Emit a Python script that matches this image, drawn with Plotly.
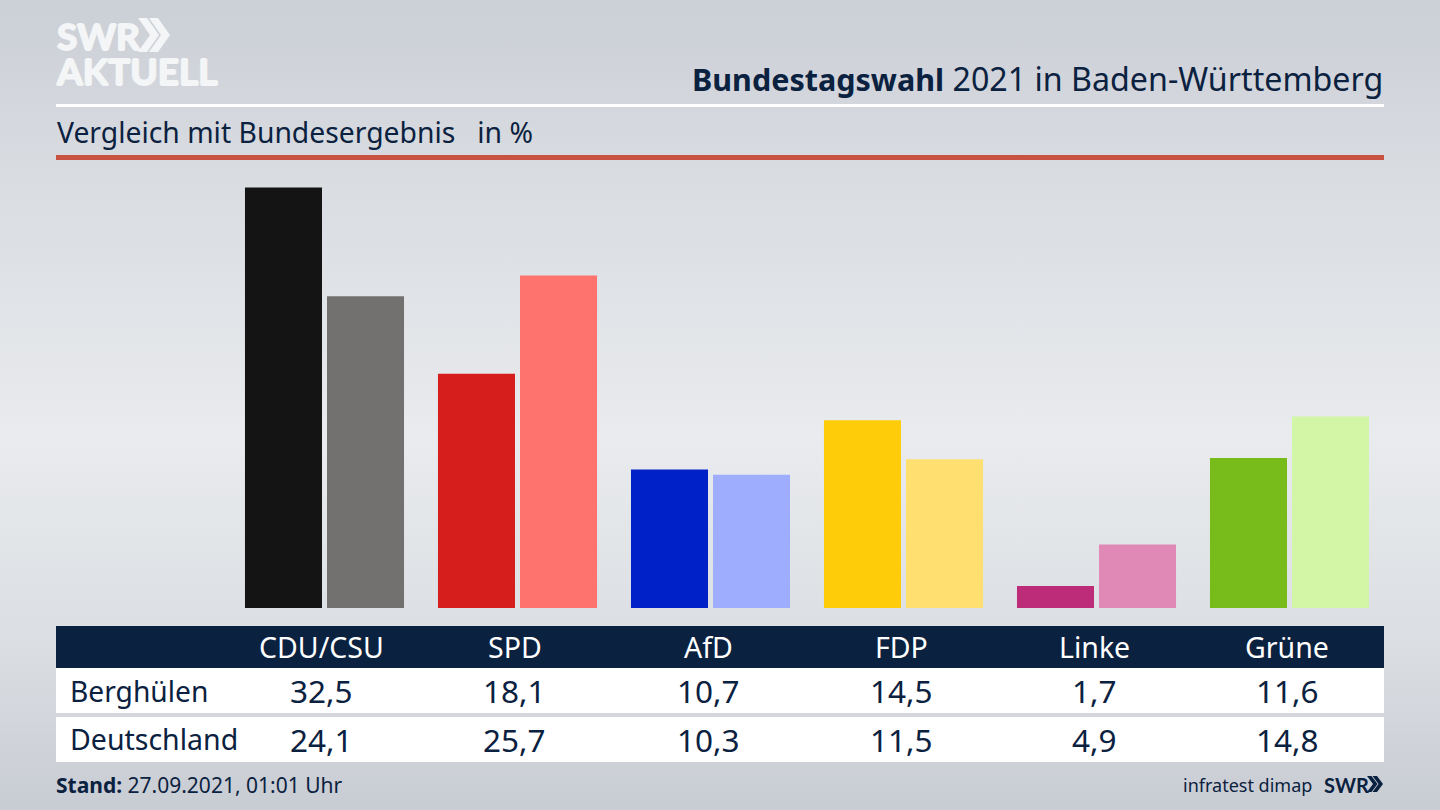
import base64
import plotly.graph_objects as go

W, H = 1440, 810

parties = ["CDU/CSU", "SPD", "AfD", "FDP", "Linke", "Grüne"]
region_name = "Berghülen"
nation_name = "Deutschland"
region_values = [32.5, 18.1, 10.7, 14.5, 1.7, 11.6]
nation_values = [24.1, 25.7, 10.3, 11.5, 4.9, 14.8]
region_colors = ["#141414", "#d61f1c", "#0021c8", "#ffcc0a", "#bc2c78", "#78bc1c"]
nation_colors = ["#73716f", "#ff736e", "#9fadff", "#ffdf70", "#e088b6", "#d2f5a6"]

NAVY = "#0b2140"
LOGO = "#f4f5f6"
FONT = "Noto Sans"
LOGO_FONT = "Lato"


def fx(x):
    return x / W


def fy(y):
    return 1 - y / H


def num(v):
    return f"{v:.1f}".replace(".", ",")


def label(x, y, text, size, color=NAVY, anchor="center", family=FONT, shadow=None, align="center"):
    font = dict(family=family, size=size, color=color)
    if shadow:
        font["shadow"] = shadow
    return dict(
        x=fx(x), y=fy(y), xref="paper", yref="paper", text=text, showarrow=False, align=align,
        xanchor=anchor, yanchor="middle", borderpad=0, borderwidth=0, font=font,
    )


def rect(x0, y0, x1, y1, color):
    return dict(
        type="rect", xref="paper", yref="paper", x0=fx(x0), x1=fx(x1), y0=fy(y0), y1=fy(y1),
        fillcolor=color, line=dict(width=0), layer="below",
    )


def poly(points, color):
    d = "M " + " L ".join(f"{fx(x):.5f},{fy(y):.5f}" for x, y in points) + " Z"
    return dict(type="path", xref="paper", yref="paper", path=d, fillcolor=color,
                line=dict(width=0), layer="above")


def chevrons(x, top, bottom, width, tip, step, color):
    mid = (top + bottom) / 2
    out = []
    for i in range(2):
        x0 = x + i * step
        out.append(poly([(x0, top), (x0 + width, top), (x0 + width + tip, mid),
                         (x0 + width, bottom), (x0, bottom), (x0 + tip, mid)], color))
    return out


svg = f'''<svg xmlns="http://www.w3.org/2000/svg" width="{W}" height="{H}">
<defs><linearGradient id="g" x1="0" y1="0" x2="0" y2="1">
<stop offset="0" stop-color="#cbcfd6"/>
<stop offset="0.2" stop-color="#d8dbe0"/>
<stop offset="0.54" stop-color="#e9ebee"/>
<stop offset="0.78" stop-color="#dcdfe3"/>
<stop offset="1" stop-color="#c8ccd3"/>
</linearGradient></defs>
<rect width="{W}" height="{H}" fill="url(#g)"/></svg>'''
bg_uri = "data:image/svg+xml;base64," + base64.b64encode(svg.encode()).decode()

fig = go.Figure()
fig.add_bar(x=parties, y=region_values, name=region_name, marker=dict(color=region_colors, line=dict(width=0)))
fig.add_bar(x=parties, y=nation_values, name=nation_name, marker=dict(color=nation_colors, line=dict(width=0)))

shapes = [
    rect(56, 104, 1384, 107, "#ffffff"),
    rect(56, 155, 1384, 160, "#c8523f"),
    rect(56, 626, 1384, 668, NAVY),
    rect(56, 668, 1384, 713, "#ffffff"),
    rect(56, 717, 1384, 762, "#ffffff"),
]
shapes += chevrons(138, 18, 52, 9, 12, 11, LOGO)
shapes += chevrons(1367, 776, 792, 4.5, 6, 5.5, NAVY)

heavy = "1px 0 0 {0},-1px 0 0 {0},0 1px 0 {0},0 -1px 0 {0}"
col_x = [321, 514.5, 708, 901, 1094, 1287]
annotations = [
    label(56, 53.5,
          '<span style="font-size:37px"><b>SWR</b></span><br><span style="font-size:37px"><b>AKTUELL</b></span>',
          27, LOGO, "left", LOGO_FONT, heavy.format(LOGO), "left"),
    label(1383, 78,
          '<span style="font-size:30.5px"><b>Bundestagswahl</b></span> 2021 in Baden-Württemberg',
          32.2, NAVY, "right"),
    label(57, 132, "Vergleich mit Bundesergebnis   in %", 28.3, NAVY, "left"),
    label(70, 691, region_name, 28.2, NAVY, "left"),
    label(70, 739, nation_name, 28.5, NAVY, "left"),
    label(56, 785, "<b>Stand:</b> 27.09.2021, 01:01 Uhr", 21, NAVY, "left"),
    label(1312, 785, "infratest dimap", 18, NAVY, "right"),
    label(1324, 784.5, "<b>SWR</b>", 20, NAVY, "left", LOGO_FONT),
]
for x, p, a, b in zip(col_x, parties, region_values, nation_values):
    annotations.append(label(x, 646.5, p, 28.5, "#ffffff"))
    annotations.append(label(x, 690.5, num(a), 31.5))
    annotations.append(label(x, 739, num(b), 31.5))

fig.update_layout(
    width=W, height=H, autosize=False,
    margin=dict(l=0, r=0, t=0, b=0, pad=0),
    paper_bgcolor="#dfe1e5", plot_bgcolor="rgba(0,0,0,0)",
    barmode="group", bargap=0.15, bargroupgap=0.061, showlegend=False,
    xaxis=dict(domain=[fx(228), fx(1386)], visible=False, categoryorder="array", categoryarray=parties),
    yaxis=dict(domain=[fy(608), fy(160)], range=[0, 448 / 12.94], visible=False),
    shapes=shapes, annotations=annotations,
    images=[dict(source=bg_uri, xref="paper", yref="paper", x=0, y=1, sizex=1, sizey=1,
                 sizing="stretch", xanchor="left", yanchor="top", layer="below")],
)
fig.write_html(
    "out.html",
    config=dict(displayModeBar=False),
    post_script="document.documentElement.style.overflow='hidden';document.body.style.margin='0';document.body.style.background='#dfe1e5';",
)
